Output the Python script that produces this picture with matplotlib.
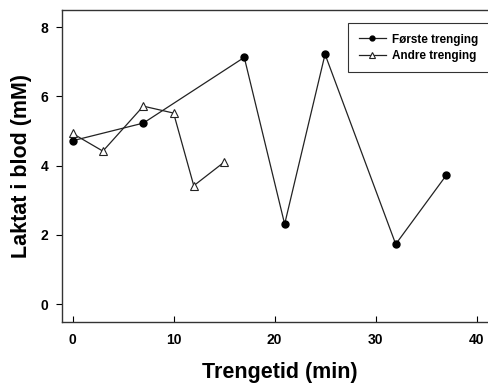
import numpy as np
import matplotlib.pyplot as plt

plt.rcParams['font.family'] = ['Liberation Sans', 'DejaVu Sans']
plt.rcParams['font.weight'] = 'bold'

# Første trenging
tid_1 = [0, 7, 17, 21, 25, 32, 37]
laktat_1 = [4.72, 5.23, 7.13, 2.31, 7.22, 1.73, 3.72]

# Andre trenging
tid_2 = [0, 3, 7, 10, 12, 15]
laktat_2 = [4.93, 4.42, 5.72, 5.52, 3.42, 4.10]

xticks = [0, 10, 20, 30, 40]
yticks = [0, 2, 4, 6, 8]

fig = plt.figure(figsize=(4.88, 3.84), dpi=100)
# axes run a little past the right edge of the canvas
ax = fig.add_axes([62 / 488, 1 - 322 / 384, (520 - 62) / 488, (322 - 10) / 384])

ax.plot(tid_1, laktat_1, color='#222222', lw=0.9, marker='o', ms=5,
        mfc='black', mec='black', label='Første trenging')
ax.plot(tid_2, laktat_2, color='#222222', lw=0.9, marker='^', ms=6,
        mfc='white', mec='#222222', mew=0.8, label='Andre trenging')

ax.set_xlim(-1.05, (520 - 72.5) / 10.1)
ax.set_ylim(-0.52, 8.5)
ax.set_xticks(xticks)
ax.set_yticks(yticks)
ax.tick_params(axis='x', direction='in', length=4, width=0.8, labelsize=10, pad=8)
ax.tick_params(axis='y', direction='out', length=4, width=0.8, labelsize=10, pad=6)
for lab in ax.get_xticklabels() + ax.get_yticklabels():
    lab.set_fontweight('bold')

for s in ax.spines.values():
    s.set_linewidth(1.0)
    s.set_color('#333333')
ax.spines['right'].set_visible(False)

ax.set_xlabel('Trengetid (min)', fontsize=15.5, fontweight='bold', labelpad=11)
ax.xaxis.label.set_x((280 - 62) / (520 - 62))
ax.set_ylabel('Laktat i blod (mM)', fontsize=15.5, fontweight='bold', labelpad=6)

# legend box stretches past the right edge
leg = ax.legend(loc='upper left', mode='expand',
                bbox_to_anchor=(348 / 488, 1 - 71 / 384, 200 / 488, 48 / 384),
                bbox_transform=fig.transFigure, borderaxespad=0,
                fontsize=8.5, frameon=True,
                fancybox=False, handlelength=2.3, handletextpad=0.5,
                borderpad=0.9, labelspacing=0.35, markerscale=0.7)
leg.get_frame().set_edgecolor('black')
leg.get_frame().set_linewidth(0.8)
for t in leg.get_texts():
    t.set_fontweight('bold')

fig.savefig('out.png', dpi=100)
